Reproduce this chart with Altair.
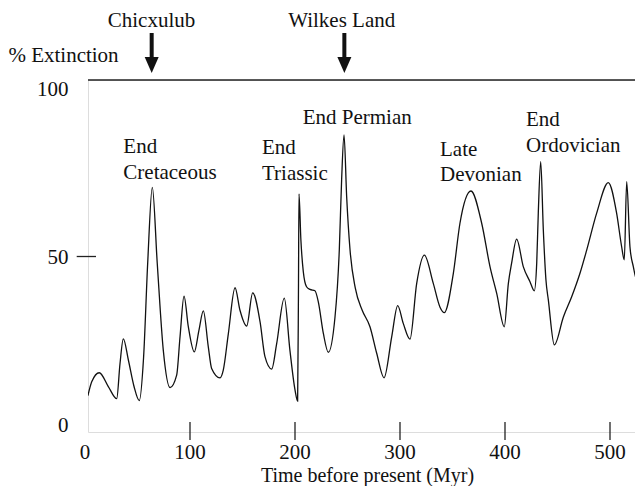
import altair as alt
import pandas as pd

# ---- curve data (time before present, Myr ; % extinction) ----
x_myr = [2.8, 6.4, 13.6, 22.2, 30.2, 33.3, 36.5, 41.3, 46.7, 51.7,
         55.8, 59.7, 64.1, 68.8, 74.6, 81.0, 87.3, 90.5, 94.3, 98.4,
         104.1, 108.5, 112.7, 117.4, 120.6, 128.6, 131.7, 136.5, 142.9, 147.6,
         154.0, 159.7, 166.7, 171.4, 177.8, 182.5, 189.8, 195.2, 200.0, 202.5,
         203.3, 203.8, 205.6, 207.9, 211.0, 214.3, 219.0, 222.2, 227.0, 231.7,
         238.1, 242.2, 244.4, 246.7, 249.2, 252.4, 257.5, 264.0, 271.4, 277.8,
         284.8, 292.1, 297.8, 303.1, 309.5, 315.9, 323.2, 331.7, 338.0, 342.2,
         350.8, 357.1, 367.6, 377.8, 385.7, 392.1, 399.3, 403.2, 406.3, 411.1,
         417.4, 423.8, 427.9, 430.2, 431.7, 434.0, 436.5, 439.0, 441.3, 447.0,
         455.6, 463.5, 471.4, 477.8, 487.3, 498.4, 506.3, 511.1, 513.6, 515.9,
         519.0, 522.2, 525.4, 528.6, 531.4]
pct = [8.6, 12.7, 15.4, 11.3, 7.7, 18.0, 25.5, 19.2, 11.3, 7.1,
       20.0, 48.0, 70.6, 48.0, 22.0, 11.0, 14.7, 26.1, 38.2, 29.1,
       21.6, 28.0, 33.8, 23.2, 16.7, 13.9, 16.2, 27.0, 40.7, 34.0,
       29.3, 39.2, 30.6, 20.2, 16.5, 24.0, 37.6, 22.0, 10.3, 7.0,
       40.0, 68.6, 55.0, 45.5, 41.0, 40.2, 39.8, 36.5, 27.1, 21.5,
       32.0, 52.0, 72.8, 86.2, 67.8, 52.0, 40.5, 34.0, 29.1, 21.2,
       13.9, 26.1, 35.4, 30.1, 25.4, 42.0, 50.4, 42.0, 35.0, 33.3,
       45.0, 59.9, 69.5, 59.9, 47.0, 39.0, 29.1, 42.0, 48.0, 55.2,
       47.0, 42.5, 39.8, 48.0, 62.9, 78.2, 57.9, 43.0, 37.0, 23.7,
       32.0, 38.0, 45.0, 51.9, 62.9, 72.0, 62.9, 52.9, 49.0, 72.3,
       52.9, 47.0, 43.0, 42.5, 42.5]

x_ticks = [0, 100, 200, 300, 400, 500]
y_ticks = [0, 50, 100]

event_names = ["End", "Cretaceous", "End", "Triassic", "End Permian",
               "Late", "Devonian", "End", "Ordovician"]
event_x = [36.5, 36.5, 168.6, 168.6, 207.3, 338.1, 338.1, 420.0, 420.0]
event_y = [80.7, 73.1, 80.4, 72.9, 89.3, 79.9, 72.5, 88.7, 81.1]

impact_names = ["Chicxulub", "Wilkes Land"]
impact_label_x = [63.3, 244.5]
impact_arrow_x = [63.5, 247.0]

FONT = "Liberation Serif"
INK = "#111111"
W, H = 547, 352
X_END = 2.857 + W / 1.05

xs = alt.Scale(domain=[2.857, X_END], nice=False, zero=False)
ys = alt.Scale(domain=[-2.23, 102.53], nice=False, zero=False)

curve_df = pd.DataFrame({"x": x_myr, "y": pct})
xt_df = pd.DataFrame({"x": x_ticks})
yt_df = pd.DataFrame({"y": y_ticks, "label": [str(v) for v in y_ticks]})
ev_df = pd.DataFrame({"x": event_x, "y": event_y, "label": event_names})
imp_df = pd.DataFrame({"x": impact_label_x, "label": impact_names})
arr_df = pd.DataFrame({"x": impact_arrow_x})
one = pd.DataFrame({"k": [0]})

curve = alt.Chart(curve_df).mark_line(
    interpolate="monotone", color=INK, strokeWidth=1.3, clip=True
).encode(
    x=alt.X("x:Q", scale=xs, axis=alt.Axis(labels=False, ticks=False, grid=False,
                                           title=None, domainColor="#222",
                                           domainWidth=1.3)),
    y=alt.Y("y:Q", scale=ys, axis=alt.Axis(labels=False, ticks=False, grid=False,
                                           title=None, domainColor="#222",
                                           domainWidth=1.3)),
)

top_border = alt.Chart(one).mark_rule(color="#222", strokeWidth=1.3).encode(
    x=alt.value(0), x2=alt.value(W), y=alt.value(0)
)

x_tick_rules = alt.Chart(xt_df[xt_df["x"] > 0]).mark_rule(color="#222", strokeWidth=1.3).encode(
    x=alt.X("x:Q", scale=xs, axis=None), y=alt.value(H - 10), y2=alt.value(H + 8)
)

x_tick_labels = alt.Chart(xt_df).mark_text(
    font=FONT, fontSize=21, color=INK, align="center", baseline="alphabetic"
).encode(
    x=alt.X("x:Q", scale=xs, axis=None), y=alt.value(379), text=alt.Text("x:Q")
)

y_tick_rule = alt.Chart(yt_df[yt_df["y"] == 50]).mark_rule(color="#222", strokeWidth=1.3).encode(
    y=alt.Y("y:Q", scale=ys, axis=None), x=alt.value(-11.3), x2=alt.value(8)
)

y_tick_labels = alt.Chart(yt_df).mark_text(
    font=FONT, fontSize=21, color=INK, align="right", baseline="alphabetic", dy=7
).encode(
    y=alt.Y("y:Q", scale=ys, axis=None), x=alt.value(-19.5), text="label:N"
)

events = alt.Chart(ev_df).mark_text(
    font=FONT, fontSize=21, color=INK, align="left", baseline="alphabetic"
).encode(
    x=alt.X("x:Q", scale=xs, axis=None), y=alt.Y("y:Q", scale=ys, axis=None),
    text="label:N"
)

impacts = alt.Chart(imp_df).mark_text(
    font=FONT, fontSize=21, color=INK, align="center", baseline="alphabetic"
).encode(
    x=alt.X("x:Q", scale=xs, axis=None), y=alt.value(-53), text="label:N"
)

shafts = alt.Chart(arr_df).mark_rule(color=INK, strokeWidth=4).encode(
    x=alt.X("x:Q", scale=xs, axis=None), y=alt.value(-47), y2=alt.value(-21)
)

heads = alt.Chart(arr_df).mark_point(
    shape="M -0.875 -1 L 0.875 -1 L 0 1 Z", filled=True, size=256,
    color=INK, opacity=1, strokeWidth=0
).encode(
    x=alt.X("x:Q", scale=xs, axis=None), y=alt.value(-15)
)

ylab = alt.Chart(one).mark_text(
    font=FONT, fontSize=21, color=INK, align="center", baseline="alphabetic",
    text="% Extinction"
).encode(x=alt.value(-24.5), y=alt.value(-18))

xlab = alt.Chart(one).mark_text(
    font=FONT, fontSize=20, color=INK, align="center", baseline="alphabetic",
    text="Time before present (Myr)"
).encode(x=alt.value(279.5), y=alt.value(401.5))

chart = alt.layer(
    curve, top_border, x_tick_rules, x_tick_labels, y_tick_rule, y_tick_labels,
    events, impacts, shafts, heads, ylab, xlab
).properties(
    width=W, height=H,
    autosize=alt.AutoSizeParams(type="none"),
    padding={"left": 80, "top": 72, "right": 0, "bottom": 54},
).configure_view(stroke=None).configure(background="white")

chart.save("out.html", embed_options={"renderer": "svg", "actions": False})
